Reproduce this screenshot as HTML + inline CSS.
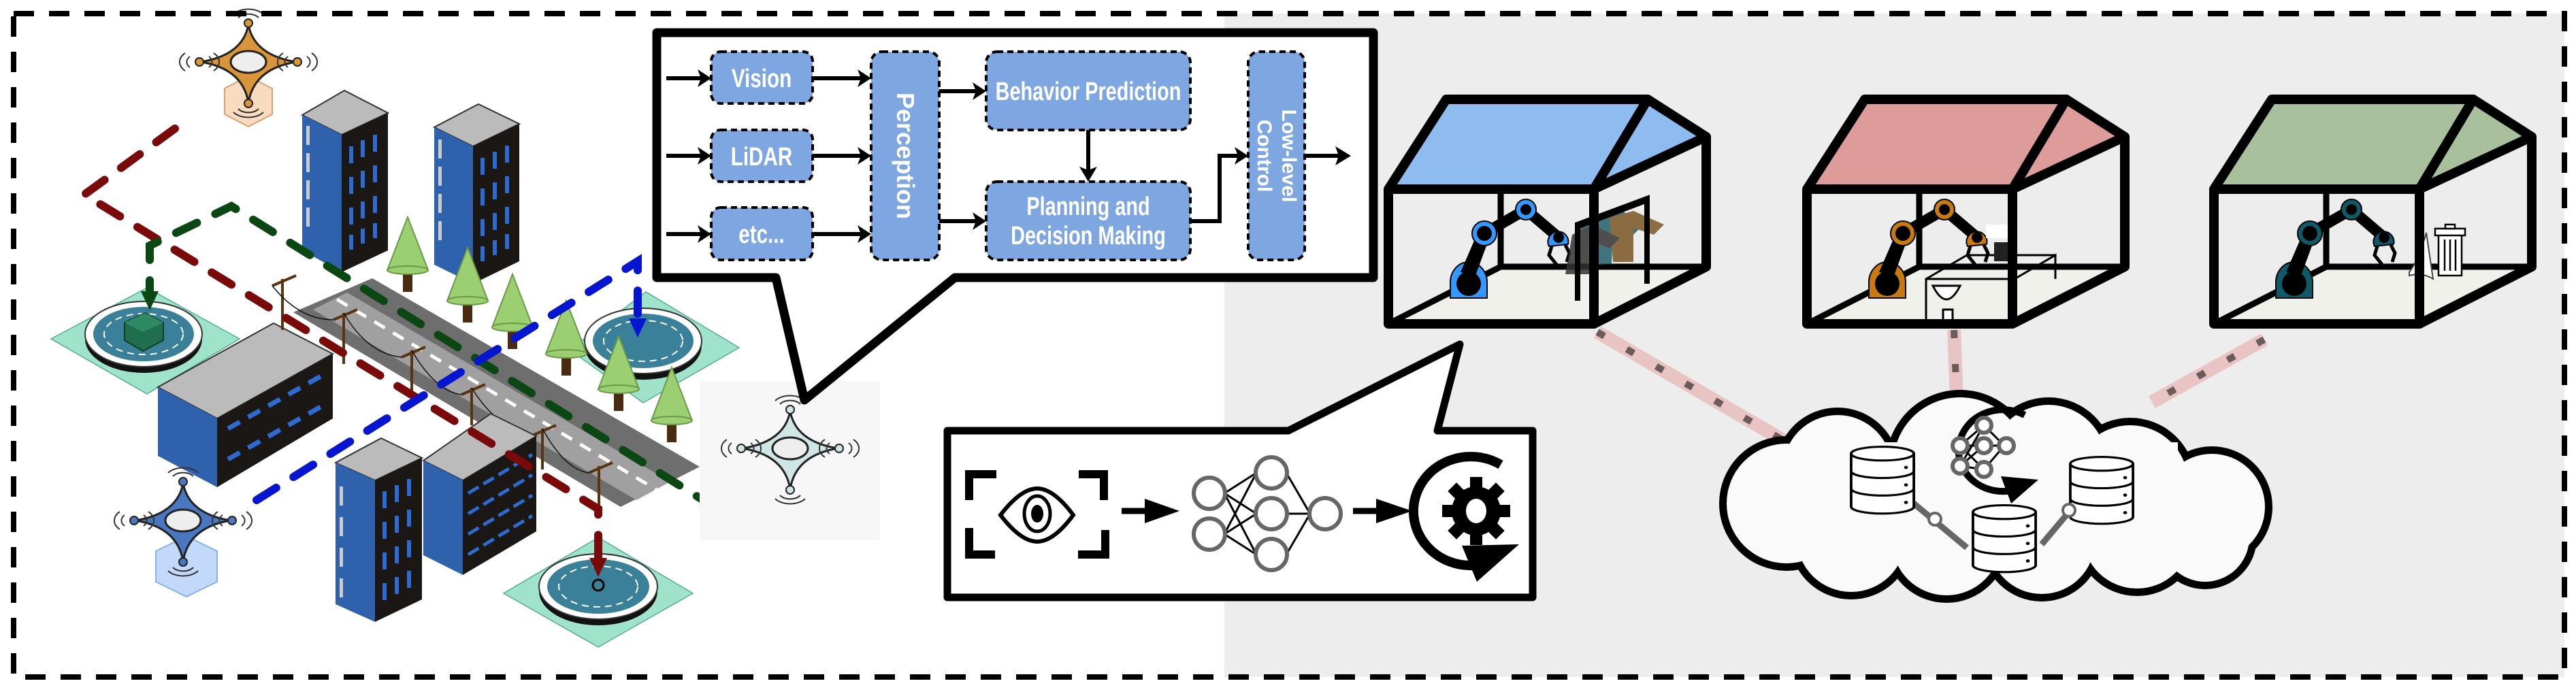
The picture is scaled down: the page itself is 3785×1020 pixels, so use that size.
<!DOCTYPE html>
<html><head><meta charset="utf-8"><style>
html,body{margin:0;padding:0;background:#fff;}
svg{display:block;}
text{font-family:"Liberation Sans",sans-serif;font-weight:bold;}
</style></head><body>
<svg width="3785" height="1020" viewBox="0 0 3785 1020" xmlns="http://www.w3.org/2000/svg">
<defs>
<symbol id="db" viewBox="-50 -15 100 130" width="100" height="130" overflow="visible">
<path d="M-48 0 V100 A48 13 0 0 0 48 100 V0" fill="#fff" stroke="#000" stroke-width="4"/>
<ellipse cx="0" cy="0" rx="48" ry="13" fill="#fff" stroke="#000" stroke-width="4"/>
<path d="M-48 33 A48 13 0 0 0 48 33 M-48 66 A48 13 0 0 0 48 66" fill="none" stroke="#000" stroke-width="4"/>
<circle cx="36" cy="26" r="3"/><circle cx="36" cy="59" r="3"/><circle cx="36" cy="92" r="3"/>
</symbol>
<g id="robot">
<path d="M-27 18 V-5 A27 30 0 0 1 27 -5 V18 Z" fill="currentColor" stroke="#000" stroke-width="2"/>
<circle cx="0" cy="-3" r="18" fill="#000"/>
<path d="M-12 -20 L14 -80 L32 -75 L10 -15 Z" fill="#000"/>
<path d="M23 -77 L84 -112 L132 -71" fill="none" stroke="#000" stroke-width="16"/>
<circle cx="23" cy="-77" r="18" fill="currentColor" stroke="#000" stroke-width="2"/><circle cx="23" cy="-77" r="11" fill="#000"/>
<circle cx="84" cy="-112" r="15" fill="currentColor" stroke="#000" stroke-width="2"/><circle cx="84" cy="-112" r="8" fill="#000"/>
<path d="M118 -58 A15 15 0 1 1 146 -61 Z" fill="currentColor" stroke="#000" stroke-width="2"/><circle cx="132" cy="-71" r="8" fill="#000"/>
<path d="M122 -58 L118 -45 L130 -30 M142 -60 L148 -48 L144 -35" fill="none" stroke="#000" stroke-width="5"/>
</g>
<g id="drone">
<path d="M0 -60 Q8 -15 70 -5 Q8 5 0 55 Q-8 5 -70 -5 Q-8 -15 0 -60 Z" fill="currentColor" stroke="#222" stroke-width="3"/>
<ellipse cx="0" cy="-5" rx="26" ry="16" fill="#eee" stroke="#222" stroke-width="3"/>
<circle cx="0" cy="-62" r="6" fill="currentColor" stroke="#222" stroke-width="2"/>
<circle cx="72" cy="-5" r="6" fill="currentColor" stroke="#222" stroke-width="2"/>
<circle cx="-72" cy="-5" r="6" fill="currentColor" stroke="#222" stroke-width="2"/>
<circle cx="0" cy="56" r="6" fill="currentColor" stroke="#222" stroke-width="2"/>
<g fill="none" stroke="#333" stroke-width="2">
<path d="M-15 -70 A18 12 0 0 1 15 -70 M-22 -75 A26 16 0 0 1 22 -75"/>
<path d="M58 -13 A18 12 0 0 0 58 3 M51 -18 A26 18 0 0 0 51 8 M86 -13 A18 12 0 0 1 86 3 M93 -18 A26 18 0 0 1 93 8"/>
<path d="M-58 -13 A18 12 0 0 1 -58 3 M-51 -18 A26 18 0 0 1 -51 8 M-86 -13 A18 12 0 0 0 -86 3 M-93 -18 A26 18 0 0 0 -93 8"/>
<path d="M-15 64 A18 12 0 0 0 15 64 M-22 69 A26 16 0 0 0 22 69"/>
</g>
</g>
</defs>

<rect x="1799" y="20" width="1969" height="975" fill="#ededed"/>

<!-- landing pads -->
<g>
<polygon points="216,423 352,498 216,579 75,498" fill="#9fe3cb" stroke="#5a9" stroke-width="1.5"/>
<ellipse cx="211" cy="498" rx="86" ry="50" fill="#111"/>
<ellipse cx="211" cy="491" rx="86" ry="48" fill="#fff" stroke="#333" stroke-width="2"/>
<ellipse cx="211" cy="491" rx="74" ry="40" fill="#3b8099"/>
<ellipse cx="211" cy="491" rx="58" ry="30" fill="none" stroke="#fff" stroke-width="2" stroke-dasharray="10 7"/>
<polygon points="183,474 213,460 240,474 240,500 210,516 183,500" fill="#1f6e4e" stroke="#0d3d28" stroke-width="2"/>
<polygon points="183,474 213,460 240,474 210,488" fill="#2e8a63"/>
</g>
<g>
<polygon points="949,429 1086,511 945,592 837,514" fill="#9fe3cb" stroke="#5a9" stroke-width="1.5"/>
<ellipse cx="945" cy="508" rx="86" ry="50" fill="#111"/>
<ellipse cx="945" cy="501" rx="86" ry="48" fill="#fff" stroke="#333" stroke-width="2"/>
<ellipse cx="945" cy="501" rx="74" ry="40" fill="#3b8099"/>
<ellipse cx="945" cy="501" rx="58" ry="30" fill="none" stroke="#fff" stroke-width="2" stroke-dasharray="10 7"/>
</g>
<g>
<polygon points="879,790 1018,872 879,951 740,872" fill="#9fe3cb" stroke="#5a9" stroke-width="1.5"/>
<ellipse cx="879" cy="869" rx="87" ry="50" fill="#111"/>
<ellipse cx="879" cy="862" rx="87" ry="48" fill="#fff" stroke="#333" stroke-width="2"/>
<ellipse cx="879" cy="862" rx="75" ry="40" fill="#3b8099"/>
<ellipse cx="879" cy="862" rx="58" ry="30" fill="none" stroke="#fff" stroke-width="2" stroke-dasharray="10 7"/>
<circle cx="879" cy="860" r="8" fill="none" stroke="#000" stroke-width="3"/>
</g>

<!-- road -->
<polygon points="547,409 1028,686 912,745 431,459" fill="#6e6e6e"/>
<polygon points="510,430 985,708 935,735 460,455" fill="#a0a0a0"/>
<line x1="495" y1="440" x2="965" y2="720" stroke="#fff" stroke-width="5" stroke-dasharray="18 14"/>

<!-- buildings -->
<g>
<polygon points="506,133 570,166 502,198 444,169" fill="#bbb" stroke="#333" stroke-width="2"/>
<polygon points="444,169 502,198 502,400 444,368" fill="#2e62ad"/>
<polygon points="502,198 570,166 570,368 502,400" fill="#1a1715"/>
<g fill="#2d6bd0"><rect x="513" y="215" width="6" height="25"/><rect x="530" y="206" width="6" height="25"/><rect x="548" y="198" width="6" height="25"/>
<rect x="513" y="260" width="6" height="25"/><rect x="530" y="251" width="6" height="25"/><rect x="548" y="243" width="6" height="25"/>
<rect x="513" y="305" width="6" height="25"/><rect x="530" y="296" width="6" height="25"/><rect x="548" y="288" width="6" height="25"/>
<rect x="513" y="345" width="6" height="22"/><rect x="530" y="336" width="6" height="22"/><rect x="548" y="328" width="6" height="22"/></g>
<g fill="#ccc"><rect x="450" y="185" width="5" height="28"/><rect x="450" y="225" width="5" height="28"/><rect x="450" y="265" width="5" height="28"/><rect x="450" y="305" width="5" height="28"/></g>
</g>
<g>
<polygon points="703,153 763,182 695,215 638,187" fill="#bbb" stroke="#333" stroke-width="2"/>
<polygon points="638,187 695,215 695,417 638,389" fill="#2e62ad"/>
<polygon points="695,215 763,182 763,384 695,417" fill="#1a1715"/>
<g fill="#2d6bd0"><rect x="706" y="232" width="6" height="25"/><rect x="724" y="223" width="6" height="25"/><rect x="742" y="214" width="6" height="25"/>
<rect x="706" y="277" width="6" height="25"/><rect x="724" y="268" width="6" height="25"/><rect x="742" y="259" width="6" height="25"/>
<rect x="706" y="322" width="6" height="25"/><rect x="724" y="313" width="6" height="25"/><rect x="742" y="304" width="6" height="25"/>
<rect x="706" y="362" width="6" height="22"/><rect x="724" y="353" width="6" height="22"/><rect x="742" y="344" width="6" height="22"/></g>
<g fill="#ccc"><rect x="644" y="205" width="5" height="28"/><rect x="644" y="245" width="5" height="28"/><rect x="644" y="285" width="5" height="28"/><rect x="644" y="325" width="5" height="28"/></g>
</g>
<g>
<polygon points="402,475 489,520 319,615 232,569" fill="#bbb" stroke="#333" stroke-width="2"/>
<polygon points="232,569 319,615 319,716 232,670" fill="#2e62ad"/>
<polygon points="319,615 489,520 489,615 319,716" fill="#1a1715"/>
<g stroke="#2d6bd0" stroke-width="7" stroke-dasharray="20 14">
<line x1="335" y1="630" x2="480" y2="548"/><line x1="335" y1="675" x2="480" y2="593"/></g>
</g>
<!-- trees -->
<g>
<g transform="translate(599,319)"><rect x="-7" y="75" width="14" height="35" fill="#4a2a10"/><polygon points="0,0 -30,78 30,78" fill="#9bcf72" stroke="#6a9a48" stroke-width="2"/><ellipse cx="0" cy="78" rx="30" ry="6" fill="#9bcf72" stroke="#6a9a48" stroke-width="2"/></g>
<g transform="translate(687,364)"><rect x="-7" y="75" width="14" height="35" fill="#4a2a10"/><polygon points="0,0 -30,78 30,78" fill="#9bcf72" stroke="#6a9a48" stroke-width="2"/><ellipse cx="0" cy="78" rx="30" ry="6" fill="#9bcf72" stroke="#6a9a48" stroke-width="2"/></g>
<g transform="translate(753,403)"><rect x="-7" y="75" width="14" height="35" fill="#4a2a10"/><polygon points="0,0 -30,78 30,78" fill="#9bcf72" stroke="#6a9a48" stroke-width="2"/><ellipse cx="0" cy="78" rx="30" ry="6" fill="#9bcf72" stroke="#6a9a48" stroke-width="2"/></g>
<g transform="translate(832,442)"><rect x="-7" y="75" width="14" height="35" fill="#4a2a10"/><polygon points="0,0 -30,78 30,78" fill="#9bcf72" stroke="#6a9a48" stroke-width="2"/><ellipse cx="0" cy="78" rx="30" ry="6" fill="#9bcf72" stroke="#6a9a48" stroke-width="2"/></g>
<g transform="translate(909,494)"><rect x="-7" y="75" width="14" height="35" fill="#4a2a10"/><polygon points="0,0 -30,78 30,78" fill="#9bcf72" stroke="#6a9a48" stroke-width="2"/><ellipse cx="0" cy="78" rx="30" ry="6" fill="#9bcf72" stroke="#6a9a48" stroke-width="2"/></g>
<g transform="translate(987,540)"><rect x="-7" y="75" width="14" height="35" fill="#4a2a10"/><polygon points="0,0 -30,78 30,78" fill="#9bcf72" stroke="#6a9a48" stroke-width="2"/><ellipse cx="0" cy="78" rx="30" ry="6" fill="#9bcf72" stroke="#6a9a48" stroke-width="2"/></g>
</g>
<!-- power poles -->
<g stroke="#5a3410" stroke-width="4" fill="none">
<line x1="415" y1="410" x2="415" y2="485"/><line x1="400" y1="420" x2="435" y2="405"/>
<line x1="505" y1="460" x2="505" y2="535"/><line x1="490" y1="470" x2="525" y2="455"/>
<line x1="605" y1="515" x2="605" y2="590"/><line x1="590" y1="525" x2="625" y2="510"/>
<line x1="693" y1="570" x2="693" y2="625"/><line x1="678" y1="580" x2="713" y2="565"/>
<line x1="797" y1="630" x2="797" y2="690"/><line x1="782" y1="640" x2="817" y2="625"/>
<line x1="880" y1="685" x2="880" y2="745"/><line x1="865" y1="695" x2="900" y2="680"/>
</g>
<g stroke="#111" stroke-width="1.5" fill="none">
<path d="M400 420 Q440 470 490 470 M505 460 Q540 520 590 525 M605 515 Q640 575 678 580 M693 570 Q730 630 782 640 M797 630 Q830 690 865 695"/>
</g>
<g>
<polygon points="560,644 620,673 551,706 493,680" fill="#bbb" stroke="#333" stroke-width="2"/>
<polygon points="493,680 551,706 551,914 493,888" fill="#2e62ad"/>
<polygon points="551,706 620,673 620,881 551,914" fill="#1a1715"/>
<g fill="#2d6bd0"><rect x="562" y="722" width="6" height="25"/><rect x="580" y="713" width="6" height="25"/><rect x="598" y="704" width="6" height="25"/>
<rect x="562" y="767" width="6" height="25"/><rect x="580" y="758" width="6" height="25"/><rect x="598" y="749" width="6" height="25"/>
<rect x="562" y="812" width="6" height="25"/><rect x="580" y="803" width="6" height="25"/><rect x="598" y="794" width="6" height="25"/>
<rect x="562" y="857" width="6" height="25"/><rect x="580" y="848" width="6" height="25"/><rect x="598" y="839" width="6" height="25"/></g>
<g fill="#ccc"><rect x="499" y="715" width="5" height="28"/><rect x="499" y="760" width="5" height="28"/><rect x="499" y="805" width="5" height="28"/><rect x="499" y="850" width="5" height="28"/></g>
</g>
<g>
<polygon points="721,608 788,641 680,706 622,677" fill="#bbb" stroke="#333" stroke-width="2"/>
<polygon points="622,677 680,706 680,845 622,816" fill="#2e62ad"/>
<polygon points="680,706 788,641 788,781 680,845" fill="#1a1715"/>
<g stroke="#2d6bd0" stroke-width="5" stroke-dasharray="18 8">
<line x1="688" y1="725" x2="782" y2="668"/><line x1="688" y1="755" x2="782" y2="698"/><line x1="688" y1="785" x2="782" y2="728"/><line x1="688" y1="815" x2="782" y2="758"/></g>
</g>

<!-- dashed routes -->
<g fill="none" stroke-width="12" stroke-linecap="round" stroke-dasharray="34 30">
<path d="M257 189 L124 286 L879 748 L879 822" stroke="#7a0a0a"/>
<path d="M1107 781 L340 303 L220 361 L220 430" stroke="#0b4713"/>
<path d="M377 735 L937 384 L937 470" stroke="#0616d0"/>
</g>
<polygon points="866,820 892,820 879,848" fill="#7a0a0a"/>
<polygon points="207,428 233,428 220,456" fill="#0b4713"/>
<polygon points="924,468 950,468 937,496" fill="#0616d0"/>

<!-- drones -->
<polygon points="330,130 365,112 400,130 400,168 365,186 330,168" fill="#f9dcc0" stroke="#d9a070" stroke-width="2"/>
<g transform="translate(365,96)" style="color:#d9953a"><use href="#drone"/></g>
<polygon points="229,810 274,788 319,810 319,855 274,877 229,855" fill="#c3d9f9" stroke="#8ab0e8" stroke-width="2"/>
<g transform="translate(269,770)" style="color:#4a78c0"><use href="#drone"/></g>
<rect x="1028" y="560" width="265" height="234" fill="#f7f7f7"/>
<g transform="translate(1161,664)" style="color:#cfe6e6"><use href="#drone"/></g>

<!-- ========== CALLOUT 1 ========== -->
<path d="M965 48 H2018 V408 H1403 L1182 588 L1140 408 H965 Z" fill="#fff" stroke="#000" stroke-width="13" stroke-linejoin="round"/>
<g stroke="#000" stroke-width="4" stroke-dasharray="9 6" fill="#7ea6e0">
<rect x="1045" y="76" width="149" height="76" rx="14"/>
<rect x="1045" y="191" width="149" height="76" rx="14"/>
<rect x="1045" y="305" width="149" height="77" rx="14"/>
<rect x="1280" y="76" width="100" height="306" rx="16"/>
<rect x="1449" y="76" width="300" height="115" rx="16"/>
<rect x="1449" y="267" width="300" height="115" rx="16"/>
<rect x="1834" y="76" width="83" height="306" rx="16"/>
</g>
<g fill="#fff" text-anchor="middle">
<text transform="translate(1119,128) scale(0.78,1)" font-size="38">Vision</text>
<text transform="translate(1119,243) scale(0.78,1)" font-size="38">LiDAR</text>
<text transform="translate(1119,357) scale(0.78,1)" font-size="38">etc...</text>
<text transform="translate(1318,229) rotate(90)" font-size="36">Perception</text>
<text transform="translate(1599,147) scale(0.76,1)" font-size="38">Behavior Prediction</text>
<text transform="translate(1599,316) scale(0.76,1)" font-size="38">Planning and</text>
<text transform="translate(1599,359) scale(0.76,1)" font-size="38">Decision Making</text>
<text transform="translate(1884,229) rotate(90)" font-size="30">Low-level</text>
<text transform="translate(1848,229) rotate(90)" font-size="30">Control</text>
</g>
<g stroke="#000" stroke-width="6" fill="none">
<path d="M979 115 H1030 M979 229 H1030 M979 344 H1030"/>
<path d="M1194 115 H1265 M1194 229 H1265 M1194 344 H1265"/>
<path d="M1380 134 H1434 M1380 325 H1434"/>
<path d="M1599 191 V250"/>
<path d="M1749 325 H1792 V229 H1820"/>
<path d="M1917 229 H1968"/>
</g>
<g fill="#000">
<polygon points="1045,115 1025,102 1030,115 1025,128"/><polygon points="1045,229 1025,216 1030,229 1025,242"/><polygon points="1045,344 1025,331 1030,344 1025,357"/>
<polygon points="1280,115 1260,102 1265,115 1260,128"/><polygon points="1280,229 1260,216 1265,229 1260,242"/><polygon points="1280,344 1260,331 1265,344 1260,357"/>
<polygon points="1449,134 1429,121 1434,134 1429,147"/><polygon points="1449,325 1429,312 1434,325 1429,338"/>
<polygon points="1599,267 1586,245 1599,250 1612,245"/>
<polygon points="1834,229 1814,216 1819,229 1814,242"/>
<polygon points="1985,229 1962,215 1967,229 1962,243"/>
</g>

<!-- ========== CALLOUT 2 ========== -->
<path d="M1392 633 H1893 L2145 506 L2112 633 H2252 V878 H1392 Z" fill="#fff" stroke="#000" stroke-width="11" stroke-linejoin="round"/>
<g stroke="#000" stroke-width="12" fill="none">
<path d="M1464 697 H1424 V735 M1585 697 H1622 V735 M1424 776 V815 H1462 M1624 779 V815 H1584"/>
</g>
<path d="M1470 757 Q1500 718 1524 718 Q1548 718 1577 757 Q1548 796 1524 796 Q1500 796 1470 757 Z" fill="none" stroke="#000" stroke-width="6"/>
<ellipse cx="1524" cy="755" rx="19" ry="26" fill="none" stroke="#000" stroke-width="5"/>
<ellipse cx="1524" cy="755" rx="9" ry="13" fill="#000"/>
<path d="M1648 751 H1690" stroke="#000" stroke-width="9"/><polygon points="1733,751 1682,733 1682,769" fill="#000"/>
<g stroke="#000" stroke-width="3">
<path d="M1799 725 L1846 695 M1799 725 L1846 755 M1799 725 L1846 815 M1799 785 L1846 695 M1799 785 L1846 755 M1799 785 L1846 815 M1890 695 L1925 755 M1890 755 L1925 755 M1890 815 L1925 755"/>
</g>
<g fill="#fff" stroke="#666" stroke-width="6">
<ellipse cx="1777" cy="725" rx="23" ry="23"/><ellipse cx="1777" cy="785" rx="23" ry="23"/>
<ellipse cx="1868" cy="695" rx="23" ry="23"/><ellipse cx="1868" cy="755" rx="23" ry="23"/><ellipse cx="1868" cy="815" rx="23" ry="23"/>
<ellipse cx="1947" cy="755" rx="23" ry="23"/>
</g>
<path d="M1988 751 H2030" stroke="#000" stroke-width="9"/><polygon points="2075,751 2022,733 2022,769" fill="#000"/>
<path d="M2205 683 A84 80 0 1 0 2165 831" fill="none" stroke="#000" stroke-width="14"/>
<polygon points="2148,802 2232,800 2170,855" fill="#000"/>
<g transform="translate(2169,751)">
<circle r="36" fill="#000"/>
<g fill="#000"><rect x="-9" y="-50" width="18" height="100"/><rect x="-9" y="-50" width="18" height="100" transform="rotate(45)"/><rect x="-9" y="-50" width="18" height="100" transform="rotate(90)"/><rect x="-9" y="-50" width="18" height="100" transform="rotate(135)"/></g>
<ellipse rx="15" ry="18" fill="#fff"/>
</g>

<!-- ========== HOUSES ========== -->
<g>
<polygon points="2040,476 2342,476 2507,392 2205,392" fill="#f1f1ec"/>
<g stroke="#000" stroke-width="9" fill="none"><path d="M2205 278 V392 H2507 M2205 392 L2040 476"/></g>
</g>
<g transform="translate(615,0)">
<polygon points="2040,476 2342,476 2507,392 2205,392" fill="#f1f1ec"/>
<g stroke="#000" stroke-width="9" fill="none"><path d="M2205 278 V392 H2507 M2205 392 L2040 476"/></g>
</g>
<g transform="translate(1213,0)">
<polygon points="2040,476 2342,476 2507,392 2205,392" fill="#f1f1ec"/>
<g stroke="#000" stroke-width="9" fill="none"><path d="M2205 278 V392 H2507 M2205 392 L2040 476"/></g>
</g>
<g transform="translate(2158,420)" style="color:#3399ff"><use href="#robot"/></g>
<g opacity="0.85"><polygon points="2320,330 2380,305 2410,335 2395,350 2370,335 2368,388 2320,390" fill="#23606a"/><polygon points="2365,320 2400,310 2445,330 2430,345 2400,335 2400,385 2370,385" fill="#7a5525"/><polygon points="2310,345 2340,330 2380,350 2365,365 2340,355 2336,403 2300,403" fill="#333"/></g>
<path d="M2318 442 V330 L2420 292 V417 M2320 332 L2418 295" stroke="#000" stroke-width="8" fill="none"/>

<g transform="translate(2773,420)" style="color:#c87a10"><use href="#robot"/></g>
<g stroke="#000" stroke-width="3" fill="none"><path d="M2830 477 V410 H2960 L3020 375 V410 M2960 410 V477 M2830 410 L2890 375 H3020"/><path d="M2840 420 Q2860 460 2880 420 Z" fill="#fff"/><rect x="2855" y="455" width="14" height="20" fill="#fff"/></g>
<rect x="2930" y="356" width="22" height="28" fill="#222"/><rect x="2918" y="330" width="42" height="20" fill="#fff"/>

<g transform="translate(3371,420)" style="color:#0e5a68"><use href="#robot"/></g>
<g stroke="#000" stroke-width="2.5" fill="#fff"><rect x="3583" y="345" width="34" height="60"/><rect x="3578" y="336" width="44" height="10"/><rect x="3593" y="330" width="14" height="6"/><path d="M3592 352 V398 M3600 352 V398 M3608 352 V398" fill="none"/></g>
<path d="M3540 400 Q3555 380 3565 342 Q3570 375 3575 410 Q3560 400 3540 405 Z" fill="#fff" stroke="#444" stroke-width="2"/>

<g stroke="#000" stroke-width="14" stroke-linejoin="round">
<g>
<polygon points="2125,146 2421,146 2342,278 2040,278" fill="#8fbcf0"/>
<polygon points="2421,146 2507,201 2342,278" fill="#8fbcf0"/>
<path d="M2040 278 V476 H2342 V278 M2342 476 L2507 392 V201" fill="none"/>
</g>
<g transform="translate(615,0)">
<polygon points="2125,146 2421,146 2342,278 2040,278" fill="#dd9c9a"/>
<polygon points="2421,146 2507,201 2342,278" fill="#dd9c9a"/>
<path d="M2040 278 V476 H2342 V278 M2342 476 L2507 392 V201" fill="none"/>
</g>
<g transform="translate(1213,0)">
<polygon points="2125,146 2421,146 2342,278 2040,278" fill="#a8c09c"/>
<polygon points="2421,146 2507,201 2342,278" fill="#a8c09c"/>
<path d="M2040 278 V476 H2342 V278 M2342 476 L2507 392 V201" fill="none"/>
</g>
</g>

<!-- pink links -->
<g>
<line x1="2347" y1="488" x2="2632" y2="654" stroke="#e8c4c4" stroke-width="20"/>
<line x1="2347" y1="488" x2="2632" y2="654" stroke="#6b5b5b" stroke-width="10" stroke-dasharray="12 38"/>
<line x1="2871" y1="485" x2="2875" y2="585" stroke="#e8c4c4" stroke-width="20"/>
<line x1="2871" y1="485" x2="2875" y2="585" stroke="#6b5b5b" stroke-width="10" stroke-dasharray="12 38"/>
<line x1="3327" y1="499" x2="3162" y2="591" stroke="#e8c4c4" stroke-width="20"/>
<line x1="3327" y1="499" x2="3162" y2="591" stroke="#6b5b5b" stroke-width="10" stroke-dasharray="12 38"/>
</g>

<!-- cloud -->
<g fill="#fafafa" stroke="#000" stroke-width="22">
<circle cx="2625" cy="740" r="88"/><circle cx="2700" cy="690" r="80"/><circle cx="2880" cy="682" r="98"/><circle cx="3010" cy="680" r="85"/>
<circle cx="3130" cy="710" r="85"/><circle cx="3250" cy="745" r="78"/><circle cx="2720" cy="790" r="80"/><circle cx="2860" cy="795" r="80"/>
<circle cx="3000" cy="795" r="78"/><circle cx="3140" cy="785" r="80"/><circle cx="3240" cy="790" r="65"/>
</g>
<g fill="#fafafa">
<circle cx="2625" cy="740" r="88"/><circle cx="2700" cy="690" r="80"/><circle cx="2880" cy="682" r="98"/><circle cx="3010" cy="680" r="85"/>
<circle cx="3130" cy="710" r="85"/><circle cx="3250" cy="745" r="78"/><circle cx="2720" cy="790" r="80"/><circle cx="2860" cy="795" r="80"/>
<circle cx="3000" cy="795" r="78"/><circle cx="3140" cy="785" r="80"/><circle cx="3240" cy="790" r="65"/>
<rect x="2640" y="650" width="560" height="170"/>
</g>
<g stroke="#666" stroke-width="9"><line x1="2800" y1="730" x2="2890" y2="805"/><line x1="3000" y1="800" x2="3080" y2="705"/></g>
<g transform="translate(2718,655) scale(0.96,0.78)"><use href="#db"/></g>
<g transform="translate(2897,741) scale(0.96,0.78)"><use href="#db"/></g>
<g transform="translate(3040,670) scale(0.96,0.78)"><use href="#db"/></g>
<circle cx="2843" cy="763" r="9" fill="#fff" stroke="#666" stroke-width="4"/><circle cx="3040" cy="750" r="9" fill="#fff" stroke="#666" stroke-width="4"/>
<path d="M2975 610 A65 60 0 1 0 2960 720" fill="none" stroke="#000" stroke-width="10"/>
<polygon points="2940,700 2995,705 2955,740" fill="#000"/>
<g stroke="#000" stroke-width="3"><path d="M2880 655 L2915 625 M2880 655 L2915 655 M2880 655 L2915 690 M2880 685 L2915 625 M2880 685 L2915 655 M2880 685 L2915 690 M2915 625 L2945 655 M2915 690 L2945 655 M2915 655 L2945 655"/></g>
<g fill="#fff" stroke="#666" stroke-width="6"><circle cx="2880" cy="655" r="11"/><circle cx="2880" cy="685" r="11"/><circle cx="2915" cy="625" r="11"/><circle cx="2915" cy="655" r="11"/><circle cx="2915" cy="690" r="11"/><circle cx="2948" cy="655" r="11"/></g>

<rect x="20" y="20" width="3748" height="975" fill="none" stroke="#000" stroke-width="8" stroke-dasharray="30 22"/>
</svg>
</body></html>
